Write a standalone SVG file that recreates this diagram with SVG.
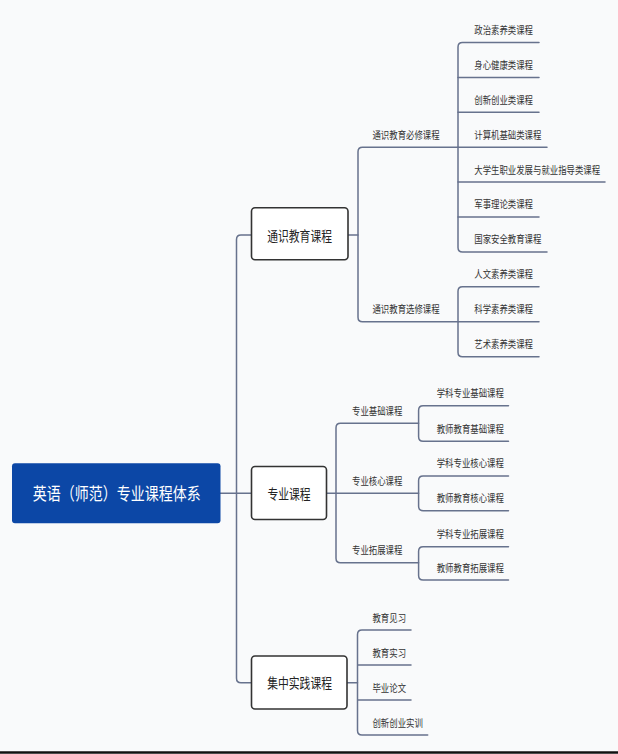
<svg xmlns="http://www.w3.org/2000/svg" width="618" height="754" viewBox="0 0 618 754">
<style>
.bg{fill:#f9fafb}
.ln{fill:none;stroke:#67728d;stroke-width:1.5;stroke-linecap:round;stroke-linejoin:round}
.box{fill:#ffffff;stroke:#333333;stroke-width:1.6}
.root{fill:#0c47a6}
text{font-family:"Noto Sans CJK SC","Noto Sans",sans-serif;dominant-baseline:central;fill:#333333}
.s{font-size:10.5px}
.m{font-size:13.5px;text-anchor:middle;fill:#222222}
.r{font-size:17.5px;text-anchor:middle;fill:#ffffff}
</style>
<rect class="bg" x="0" y="0" width="618" height="754"/>
<line x1="0" y1="752.5" x2="618" y2="752.5" stroke="#111111" stroke-width="2.5"/>

<g id="connectors">
  <path class="ln" d="M220,493.3 H251.5"/>
  <path class="ln" d="M251.5,235 H241 Q236.5,235 236.5,239.5 V678.2 Q236.5,682.7 241,682.7 H251.5"/>
  <!-- 通识 -->
  <path class="ln" d="M348,235 H358"/>
  <path class="ln" d="M458,147.2 H362.5 Q358,147.2 358,151.7 V317.2 Q358,321.7 362.5,321.7 H458"/>
  <path class="ln" d="M539,42.5 H462.5 Q458,42.5 458,47 V247.4 Q458,251.9 462.5,251.9 H547"/>
  <path class="ln" d="M458,77.4 H539 M458,112.3 H539 M458,147.2 H547 M458,182.1 H605 M458,217 H539"/>
  <path class="ln" d="M539,286.7 H462.5 Q458,286.7 458,291.2 V352.2 Q458,356.7 462.5,356.7 H539 M458,321.7 H539"/>
  <!-- 专业 -->
  <path class="ln" d="M326.5,493.3 H418.6"/>
  <path class="ln" d="M418.6,423.3 H340.5 Q336,423.3 336,427.8 V558.2 Q336,562.7 340.5,562.7 H418.6"/>
  <path class="ln" d="M508.5,405.7 H423.1 Q418.6,405.7 418.6,410.2 V436.8 Q418.6,441.3 423.1,441.3 H508.5"/>
  <path class="ln" d="M508.5,476 H423.1 Q418.6,476 418.6,480.5 V506.2 Q418.6,510.7 423.1,510.7 H508.5"/>
  <path class="ln" d="M508.5,546.7 H423.1 Q418.6,546.7 418.6,551.2 V575.5 Q418.6,580 423.1,580 H508.5"/>
  <!-- 实践 -->
  <path class="ln" d="M347,682.7 H357.5"/>
  <path class="ln" d="M411,630 H362 Q357.5,630 357.5,634.5 V730.5 Q357.5,735 362,735 H427.7 M357.5,665 H411 M357.5,700 H411"/>
</g>

<g id="root">
  <rect class="root" x="12" y="463.3" width="208.5" height="60" rx="3"/>
  <g transform="scale(0.8 1)"><text class="r" x="145.9" y="493.3">英语（师范）专业课程体系</text></g>
</g>

<g id="n-tongshi">
  <rect class="box" x="251.5" y="207.8" width="96.5" height="52" rx="3.5"/>
  <g transform="scale(0.8 1)"><text class="m" x="374.5" y="235">通识教育课程</text></g>
</g>
<g id="n-zhuanye">
  <rect class="box" x="251.5" y="466.5" width="75" height="53" rx="3.5"/>
  <g transform="scale(0.8 1)"><text class="m" x="361.3" y="493.3">专业课程</text></g>
</g>
<g id="n-shijian">
  <rect class="box" x="251.5" y="656" width="95.5" height="53" rx="3.5"/>
  <g transform="scale(0.8 1)"><text class="m" x="374.5" y="682.7">集中实践课程</text></g>
</g>

<g id="labels" transform="scale(0.8 1)">
  <g id="n-bixiu"><text class="s" x="465.6" y="134.2">通识教育必修课程</text></g>
  <g id="n-c1"><text class="s" x="592.8" y="29.5">政治素养类课程</text></g>
  <g id="n-c2"><text class="s" x="592.8" y="64.4">身心健康类课程</text></g>
  <g id="n-c3"><text class="s" x="592.8" y="99.3">创新创业类课程</text></g>
  <g id="n-c4"><text class="s" x="592.8" y="134.2">计算机基础类课程</text></g>
  <g id="n-c5"><text class="s" x="592.8" y="169.1">大学生职业发展与就业指导类课程</text></g>
  <g id="n-c6"><text class="s" x="592.8" y="204">军事理论类课程</text></g>
  <g id="n-c7"><text class="s" x="592.8" y="238.9">国家安全教育课程</text></g>
  <g id="n-xuanxiu"><text class="s" x="465.6" y="308.7">通识教育选修课程</text></g>
  <g id="n-x1"><text class="s" x="592.8" y="273.5">人文素养类课程</text></g>
  <g id="n-x2"><text class="s" x="592.8" y="308.7">科学素养类课程</text></g>
  <g id="n-x3"><text class="s" x="592.8" y="343.7">艺术素养类课程</text></g>

  <g id="n-jichu"><text class="s" x="440" y="410.5">专业基础课程</text></g>
  <g id="n-j1"><text class="s" x="545.9" y="393">学科专业基础课程</text></g>
  <g id="n-j2"><text class="s" x="545.9" y="428.5">教师教育基础课程</text></g>
  <g id="n-hexin"><text class="s" x="440" y="480.3">专业核心课程</text></g>
  <g id="n-h1"><text class="s" x="545.9" y="463">学科专业核心课程</text></g>
  <g id="n-h2"><text class="s" x="545.9" y="498">教师教育核心课程</text></g>
  <g id="n-tuozhan"><text class="s" x="440" y="549.9">专业拓展课程</text></g>
  <g id="n-t1"><text class="s" x="545.9" y="533.5">学科专业拓展课程</text></g>
  <g id="n-t2"><text class="s" x="545.9" y="567.2">教师教育拓展课程</text></g>

  <g id="n-p1"><text class="s" x="465.6" y="617.2">教育见习</text></g>
  <g id="n-p2"><text class="s" x="465.6" y="652.2">教育实习</text></g>
  <g id="n-p3"><text class="s" x="465.6" y="687.2">毕业论文</text></g>
  <g id="n-p4"><text class="s" x="465.6" y="722.2">创新创业实训</text></g>
</g>
</svg>
